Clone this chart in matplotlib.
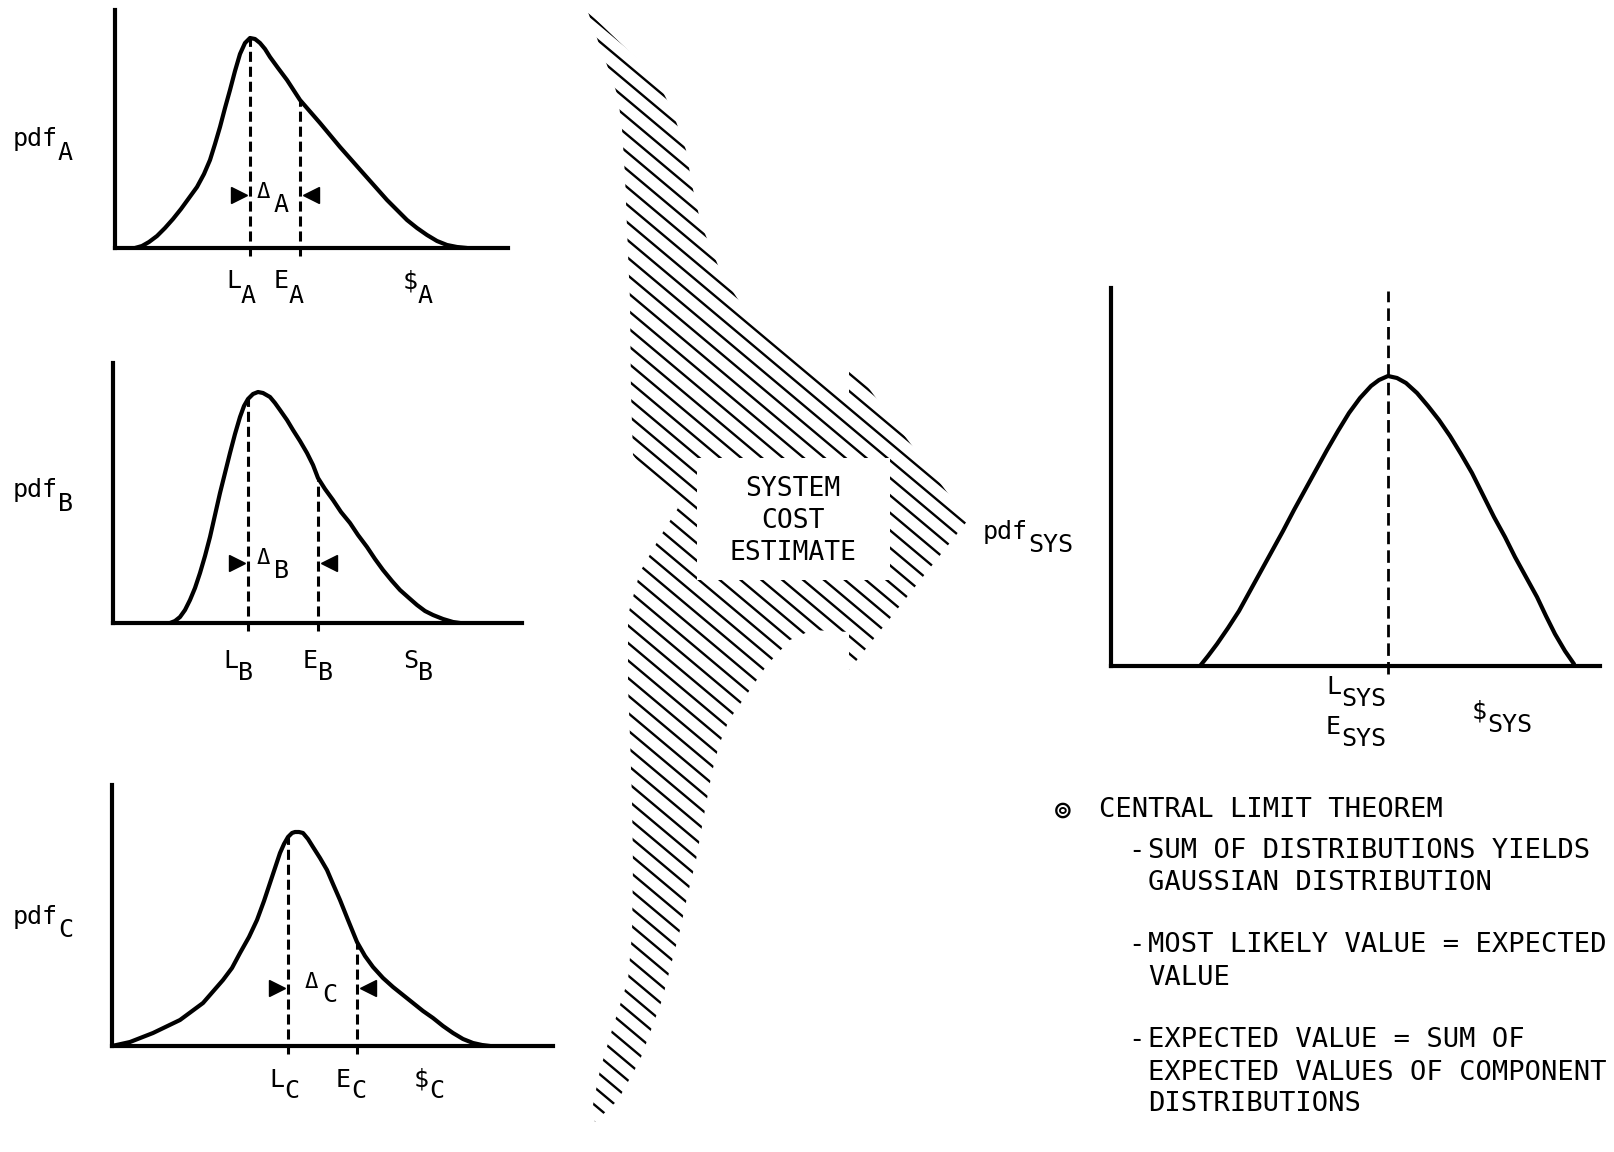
import numpy as np
import matplotlib.pyplot as plt
from matplotlib.patches import Polygon, Rectangle
from matplotlib.collections import LineCollection

plt.rcParams['font.family'] = ['DejaVu Sans Mono', 'DejaVu Sans']

W_PX, H_PX = 1614, 1152

# component distributions: cost vs pdf (axis units)
cost_a = [20, 27, 34, 42, 50, 58, 66, 74, 82, 89, 95, 100, 105, 110, 115, 120, 125, 130, 135,
          140, 145, 150, 155, 163, 172, 185, 205, 225, 248, 272, 292, 302, 312, 322, 332, 342, 352]
pdf_a = [0, 2, 6, 12, 20, 29, 39, 50, 61, 74, 88, 104, 121, 140, 158, 177, 194, 205, 210,
         209, 205, 199, 191, 180, 168, 148, 125, 101, 75, 48, 28, 20, 13, 7, 3, 1, 0]
likely_a, expected_a = 135, 185

cost_b = [57, 62, 67, 72, 77, 82, 87, 92, 97, 102, 107, 112, 117, 122, 127, 131, 135, 140, 145,
          150, 157, 162, 167, 174, 180, 187, 194, 200, 205, 212, 220, 228, 237, 245, 254, 262,
          270, 279, 287, 296, 304, 312, 320, 330, 340, 347]
pdf_b = [0, 2, 6, 13, 23, 35, 50, 67, 86, 108, 130, 150, 170, 189, 206, 217, 224, 229, 231,
         230, 226, 220, 213, 203, 193, 182, 170, 158, 145, 134, 123, 111, 100, 88, 76, 64,
         53, 42, 33, 25, 18, 12, 8, 4, 1, 0]
likely_b, expected_b = 135, 205

cost_c = [0, 18, 41, 68, 91, 111, 120, 128, 137, 145, 152, 158, 163, 168, 172, 176, 180, 183,
          187, 191, 196, 201, 208, 215, 221, 228, 236, 245, 253, 261, 271, 281, 291, 301, 311,
          321, 331, 341, 351, 361, 370, 378]
pdf_c = [0, 4, 13, 26, 43, 66, 78, 93, 109, 126, 145, 163, 178, 193, 202, 209, 213, 214,
         214, 213, 207, 199, 188, 176, 162, 146, 126, 104, 90, 79, 68, 59, 51, 43, 35,
         28, 20, 13, 7, 3, 1, 0]
likely_c, expected_c = 176, 245

# system distribution
cost_sys = [89, 97, 106, 117, 128, 139, 150, 161, 172, 183, 194, 205, 216, 227, 238, 249, 260,
            268, 277, 286, 295, 306, 317, 328, 339, 350, 361, 372, 383, 394, 404, 415, 426,
            435, 444, 454, 463]
pdf_sys = [0, 10, 22, 38, 55, 75, 95, 115, 135, 156, 176, 196, 216, 235, 253, 268, 280,
           286, 290, 288, 283, 273, 260, 246, 230, 212, 193, 171, 149, 129, 109, 89, 69,
           50, 32, 15, 2]
likely_sys = 277

notes = [
    ("CENTRAL LIMIT THEOREM", 0),
    ("SUM OF DISTRIBUTIONS YIELDS", 1), ("GAUSSIAN DISTRIBUTION", 2),
    ("MOST LIKELY VALUE = EXPECTED", 1), ("VALUE", 2),
    ("EXPECTED VALUE = SUM OF", 1), ("EXPECTED VALUES OF COMPONENT", 2), ("DISTRIBUTIONS", 2),
]
note_y = [810, 851, 883, 945, 978, 1040, 1073, 1104]

fig = plt.figure(figsize=(W_PX / 100, H_PX / 100), dpi=100)
fig.patch.set_facecolor('white')


def make_panel(left, top, right, bottom):
    ax = fig.add_axes([left / W_PX, 1 - bottom / H_PX, (right - left) / W_PX, (bottom - top) / H_PX])
    ax.set_xlim(0, right - left)
    ax.set_ylim(0, bottom - top)
    ax.set_facecolor('none')
    for s in ['top', 'right']:
        ax.spines[s].set_visible(False)
    for s in ['left', 'bottom']:
        ax.spines[s].set_linewidth(3)
    ax.set_xticks([])
    ax.set_yticks([])
    return ax


def dashed(ax, x, top, lw=2.2, dashes=(3.3, 1.6)):
    ax.plot([x, x], [-8, top], color='black', lw=lw, dashes=dashes, clip_on=False)


def component(ax, cost, pdf, likely, expected, arrow_y):
    ax.plot(cost, pdf, color='black', lw=3, solid_capstyle='round', solid_joinstyle='round')
    dashed(ax, likely, np.interp(likely, cost, pdf))
    dashed(ax, expected, np.interp(expected, cost, pdf))
    ax.plot(likely - 11, arrow_y, marker='>', ms=11, color='black', clip_on=False)
    ax.plot(expected + 11, arrow_y, marker='<', ms=11, color='black', clip_on=False)


ax_a = make_panel(115, 10, 508, 248)
component(ax_a, cost_a, pdf_a, likely_a, expected_a, 53)
ax_b = make_panel(113, 363, 522, 623)
component(ax_b, cost_b, pdf_b, likely_b, expected_b, 60)
ax_c = make_panel(112, 785, 553, 1046)
component(ax_c, cost_c, pdf_c, likely_c, expected_c, 58)

ax_s = make_panel(1111, 288, 1600, 666)
ax_s.plot(cost_sys, pdf_sys, color='black', lw=3, solid_capstyle='round', solid_joinstyle='round')
dashed(ax_s, likely_sys, 375, lw=2, dashes=(4.5, 2.2))

# overlay in pixel coordinates for the arrow and all the lettering
ov = fig.add_axes([0, 0, 1, 1])
ov.set_xlim(0, W_PX)
ov.set_ylim(H_PX, 0)
ov.axis('off')
ov.patch.set_alpha(0)

outline = [
    (588, 12), (655, 76), (672, 110), (686, 150), (692, 185), (701, 224), (722, 275),
    (743, 307), (766, 328), (792, 350), (818, 372), (849, 398), (849, 362), (968, 520),
    (849, 670), (849, 632), (812, 630), (790, 640), (767, 665), (745, 697), (729, 720),
    (719, 745), (712, 772), (704, 815), (696, 860), (688, 893), (680, 930), (662, 1000),
    (640, 1060), (618, 1100), (595, 1122), (592, 1110), (600, 1070), (612, 1030),
    (628, 980), (632, 934), (633, 866), (632, 800), (630, 737), (628, 686), (628, 615),
    (640, 572), (660, 537), (678, 508), (650, 478), (633, 455), (631, 393), (630, 300),
    (628, 254), (625, 176), (622, 129), (618, 97), (610, 73), (600, 47),
]
shape = Polygon(outline, closed=True, facecolor='none', edgecolor='none')
ov.add_patch(shape)

slope = np.tan(np.radians(40))
segs = []
for c0 in np.arange(-420, 1160, 17.5):
    segs.append([(550, c0), (1000, c0 + slope * 450)])
hatch = LineCollection(segs, colors='black', linewidths=1.7)
ov.add_collection(hatch)
hatch.set_clip_path(shape)

ov.add_patch(Rectangle((697, 458), 193, 122, facecolor='white', edgecolor='none', zorder=3))
for txt, y in zip(["SYSTEM", "COST", "ESTIMATE"], [489, 521, 553]):
    ov.text(793, y, txt, ha='center', va='center', fontsize=19, zorder=4)


def sub_label(x, y, main, sub, drop, size=18):
    ov.text(x, y, main, ha='right', va='center', fontsize=size)
    ov.text(x, y + drop, sub, ha='left', va='center', fontsize=size)


# y-axis names
sub_label(58, 139, "pdf", "A", 14)
sub_label(58, 490, "pdf", "B", 14)
sub_label(58, 917, "pdf", "C", 13)
sub_label(1028, 532, "pdf", "SYS", 13)

# cost labels under each axis
for x, main, sub in [(241, "L", "A"), (289, "E", "A"), (418, r"\$", "A")]:
    sub_label(x, 281, main, sub, 15)
for x, main, sub in [(238, "L", "B"), (318, "E", "B"), (418, "S", "B")]:
    sub_label(x, 661, main, sub, 12)
for x, main, sub in [(284, "L", "C"), (351, "E", "C"), (429, r"\$", "C")]:
    sub_label(x, 1080, main, sub, 11)
sub_label(1341, 687, "L", "SYS", 12)
sub_label(1341, 727, "E", "SYS", 12)
sub_label(1487, 712, r"\$", "SYS", 13)

# delta labels between L and E
for x, y, sub in [(263, 192, "A"), (263, 558, "B"), (311, 982, "C")]:
    ov.text(x, y, "Δ", ha='center', va='center', fontsize=16)
    ov.text(x + 11, y + 13, sub, ha='left', va='center', fontsize=18)

# notes
ov.text(1063, 811, "⊚", ha='center', va='center', fontsize=17, family='DejaVu Sans',
        fontweight='bold')
for (txt, level), y in zip(notes, note_y):
    if level == 0:
        ov.text(1099, y, txt, ha='left', va='center', fontsize=19.5)
    elif level == 1:
        ov.text(1128, y, "-", ha='left', va='center', fontsize=19.5)
        ov.text(1148, y, txt, ha='left', va='center', fontsize=19.5)
    else:
        ov.text(1148, y, txt, ha='left', va='center', fontsize=19.5)

fig.savefig("out.png", dpi=100)
